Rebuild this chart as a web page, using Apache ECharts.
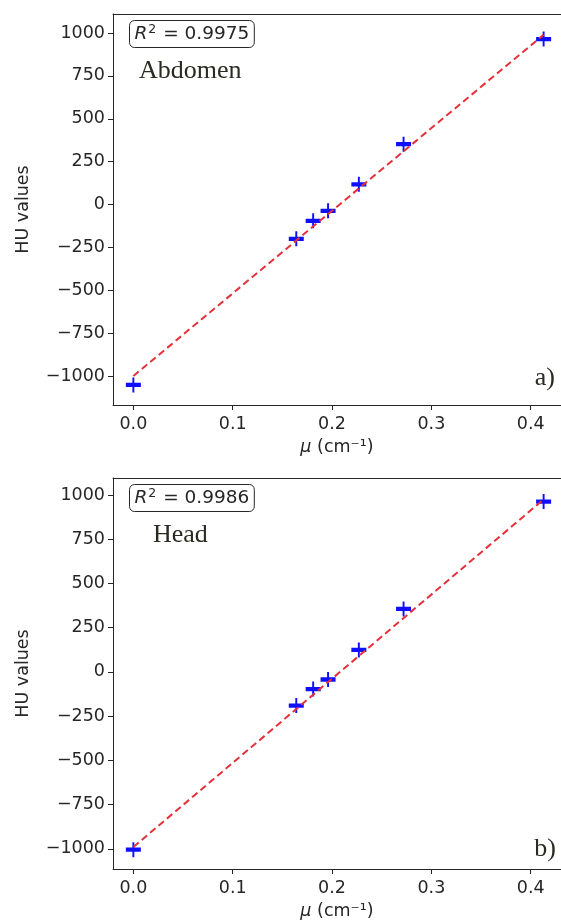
<!DOCTYPE html>
<html>
<head>
<meta charset="utf-8">
<script src="https://cdn.jsdelivr.net/npm/echarts@6/dist/echarts.min.js"></script>
<style>
  html, body { margin: 0; padding: 0; background: #fff; }
  #main { width: 561px; height: 924px; }
</style>
</head>
<body>
<div id="main"></div>
<script>
// tick labels
const xTicks = [0, 0.1, 0.2, 0.3, 0.4]
const yTicks = [-1000, -750, -500, -250, 0, 250, 500, 750, 1000]

// measured points, mu in cm^-1
const muValues = [0, 0.164, 0.181, 0.196, 0.227, 0.272, 0.413]
const huAbdomen = [-1052, -200, -95, -37, 118, 352, 965]
const huHead = [-1005, -190, -97, -43, 124, 356, 963]

// fitted lines (end points)
const fitMu = [0, 0.413]
const fitAbdomen = [-1000, 990]
const fitHead = [-990, 975]

const ink = '#262626'
const tickFont = 'DejaVu Sans'
const fs = 17.5

function pairs(xs, ys) {
    return xs.map((x, i) => [x, ys[i]])
}

// bottom x axis with ticks + top border line
function xAxes(gridIndex) {
    return [
        {
            type: 'value',
            gridIndex: gridIndex,
            min: -0.0205,
            max: 0.4305,
            axisLine: { onZero: false, lineStyle: { color: ink, width: 1 } },
            axisTick: { show: true, customValues: xTicks, length: 5, lineStyle: { color: ink } },
            axisLabel: {
                customValues: xTicks,
                formatter: v => v.toFixed(1),
                color: ink, fontSize: fs, fontFamily: tickFont, margin: 10
            },
            splitLine: { show: false },
            name: '{it|μ} (cm⁻¹)',
            nameLocation: 'middle',
            nameGap: 33,
            nameTextStyle: {
                color: ink, fontSize: fs, fontFamily: tickFont,
                rich: { it: { fontStyle: 'italic', fontSize: fs, fontFamily: tickFont, color: ink } }
            }
        },
        {
            type: 'value',
            gridIndex: gridIndex,
            position: 'top',
            min: -0.0205,
            max: 0.4305,
            axisLine: { show: true, onZero: false, lineStyle: { color: ink, width: 1 } },
            axisTick: { show: false },
            axisLabel: { show: false },
            splitLine: { show: false }
        }
    ]
}

function yAxis(gridIndex, min, max) {
    return {
        type: 'value',
        gridIndex: gridIndex,
        min: min,
        max: max,
        axisLine: { show: true, onZero: false, lineStyle: { color: ink, width: 1 } },
        axisTick: { show: true, customValues: yTicks, length: 5, lineStyle: { color: ink } },
        axisLabel: {
            customValues: yTicks,
            formatter: v => String(v).replace('-', '\u2212'),
            color: ink, fontSize: fs, fontFamily: tickFont, margin: 8
        },
        splitLine: { show: false },
        name: 'HU values',
        nameLocation: 'middle',
        nameRotate: 90,
        nameGap: 81,
        nameTextStyle: { color: ink, fontSize: fs, fontFamily: tickFont }
    }
}

const plus = 'path://M0,5H14V9H0Z M6.1,0H7.9V14H6.1Z'

function scatter(xIndex, yIndex, ys) {
    return {
        type: 'scatter',
        xAxisIndex: xIndex,
        yAxisIndex: yIndex,
        data: pairs(muValues, ys),
        symbol: plus,
        symbolSize: 15,
        itemStyle: { color: '#0f0fff', opacity: 1 },
        z: 3
    }
}

function fitLine(xIndex, yIndex, ys) {
    return {
        type: 'line',
        xAxisIndex: xIndex,
        yAxisIndex: yIndex,
        data: pairs(fitMu, ys),
        showSymbol: false,
        lineStyle: { color: '#e5303a', width: 2, type: [7, 4] },
        z: 4
    }
}

function r2Box(label, x, y) {
    return {
        type: 'text',
        left: x,
        top: y,
        style: {
            text: '{i|R}{s|2} = ' + label,
            fill: ink,
            font: '18.5px "DejaVu Sans"',
            padding: [3, 5, 3, 5],
            borderColor: ink,
            borderWidth: 1,
            borderRadius: 5,
            rich: {
                i: { fontStyle: 'italic', fontSize: 18.5, fontFamily: tickFont, fill: ink },
                s: { fontSize: 12.5, fontFamily: tickFont, verticalAlign: 'top', padding: [0, 1, 8, 1], fill: ink }
            }
        }
    }
}

function serifText(text, x, y, align) {
    return {
        type: 'text',
        x: x,
        y: y,
        style: {
            text: text,
            fill: '#2a2a20',
            font: '26px "Liberation Serif"',
            align: align || 'left',
            verticalAlign: 'middle'
        }
    }
}

const chart = echarts.init(document.getElementById('main'))

chart.setOption({
    backgroundColor: '#fff',
    animation: false,
    grid: [
        { left: 113, right: -3, top: 14, height: 391 },
        { left: 113, right: -3, top: 478, height: 391 }
    ],
    xAxis: [].concat(xAxes(0), xAxes(1)),
    yAxis: [yAxis(0, -1169, 1111), yAxis(1, -1114, 1096)],
    series: [
        fitLine(0, 0, fitAbdomen),
        scatter(0, 0, huAbdomen),
        fitLine(2, 1, fitHead),
        scatter(2, 1, huHead)
    ],
    graphic: [
        r2Box('0.9975', 129, 20),
        serifText('Abdomen', 139, 71),
        serifText('a)', 555, 378, 'right'),
        r2Box('0.9986', 129, 484),
        serifText('Head', 153, 535),
        serifText('b)', 556, 849, 'right')
    ]
})
</script>
</body>
</html>
